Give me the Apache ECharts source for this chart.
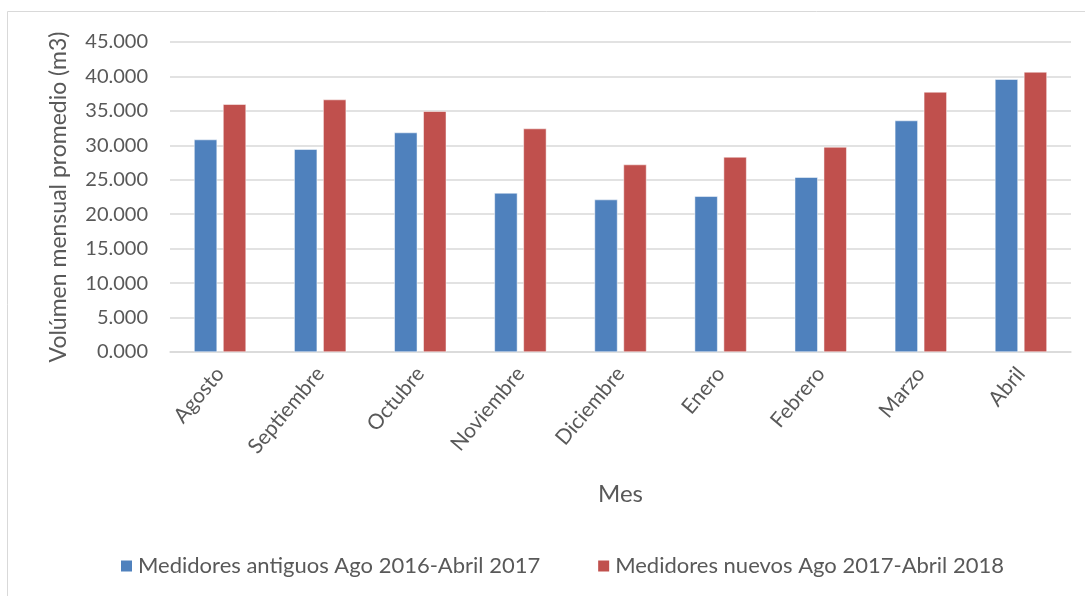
<!DOCTYPE html>
<html>
<head>
<meta charset="utf-8">
<script src="https://cdn.jsdelivr.net/npm/echarts@6/dist/echarts.min.js"></script>
<style>
  html, body { margin: 0; padding: 0; background: #fff; }
  #chart { width: 1085px; height: 596px; }
</style>
</head>
<body>
<div id="chart"></div>
<script>
var meses = ["Agosto", "Septiembre", "Octubre", "Noviembre", "Diciembre", "Enero", "Febrero", "Marzo", "Abril"];
var antiguos = [30836, 29428, 31852, 23084, 22125, 22604, 25363, 33595, 39591];
var nuevos = [35961, 36643, 34945, 32433, 27207, 28310, 29762, 37747, 40650];
var nombreAntiguos = "Medidores antiguos Ago 2016-Abril 2017";
var nombreNuevos = "Medidores nuevos Ago 2017-Abril 2018";
var tituloY = "Volúmen mensual promedio (m3)";

var fuente = "Lato";
var gris = "#595959";

var myChart = echarts.init(document.getElementById("chart"), null, { renderer: "canvas" });

var option = {
  backgroundColor: "#fff",
  animation: false,
  textStyle: { fontFamily: fuente },
  graphic: [{
    type: "rect",
    shape: { x: 7.5, y: 11.5, width: 1200, height: 700 },
    style: { fill: "none", stroke: "#D9D9D9", lineWidth: 1 },
    silent: true
  }, {
    // titulo del eje Y (el nombre del eje se desplaza solo en v6)
    type: "text",
    x: 59,
    y: 197,
    rotation: Math.PI / 2,
    silent: true,
    style: {
      text: tituloY,
      font: "23px Lato",
      fill: gris,
      align: "center",
      verticalAlign: "middle"
    }
  }],
  grid: { left: 170, right: 14, top: 42, bottom: 244 },
  legend: {
    top: 550,
    left: 114,
    itemWidth: 13,
    itemHeight: 13,
    itemGap: 56,
    icon: "rect",
    textStyle: { fontFamily: fuente, fontSize: 22, color: gris },
    data: [nombreAntiguos, nombreNuevos]
  },
  xAxis: {
    type: "category",
    data: meses,
    name: "Mes",
    nameLocation: "middle",
    nameGap: 130,
    nameTextStyle: { fontFamily: fuente, fontSize: 24, color: gris },
    axisLine: { lineStyle: { color: "#D9D9D9", width: 1.5 } },
    axisTick: { show: false },
    axisLabel: { rotate: 50, margin: 18, fontSize: 21, color: gris, fontFamily: fuente, interval: 0 }
  },
  yAxis: {
    type: "value",
    min: 0,
    max: 45000,
    interval: 5000,
    axisLine: { show: false },
    axisTick: { show: false },
    splitLine: { lineStyle: { color: "#D9D9D9", width: 1.5 } },
    axisLabel: {
      margin: 22,
      fontSize: 20,
      color: gris,
      fontFamily: fuente,
      formatter: function (v) { return (v / 1000).toFixed(3); }
    }
  },
  series: [
    {
      name: nombreAntiguos,
      type: "bar",
      data: antiguos,
      barWidth: 23,
      barGap: "26%",
      itemStyle: { color: "#4F81BD", borderColor: "#fff", borderWidth: 0.5 }
    },
    {
      name: nombreNuevos,
      type: "bar",
      data: nuevos,
      barWidth: 23,
      barGap: "26%",
      itemStyle: { color: "#C0504D", borderColor: "#fff", borderWidth: 0.5 }
    }
  ]
};

myChart.setOption(option);
window.addEventListener("resize", myChart.resize);
</script>
</body>
</html>
